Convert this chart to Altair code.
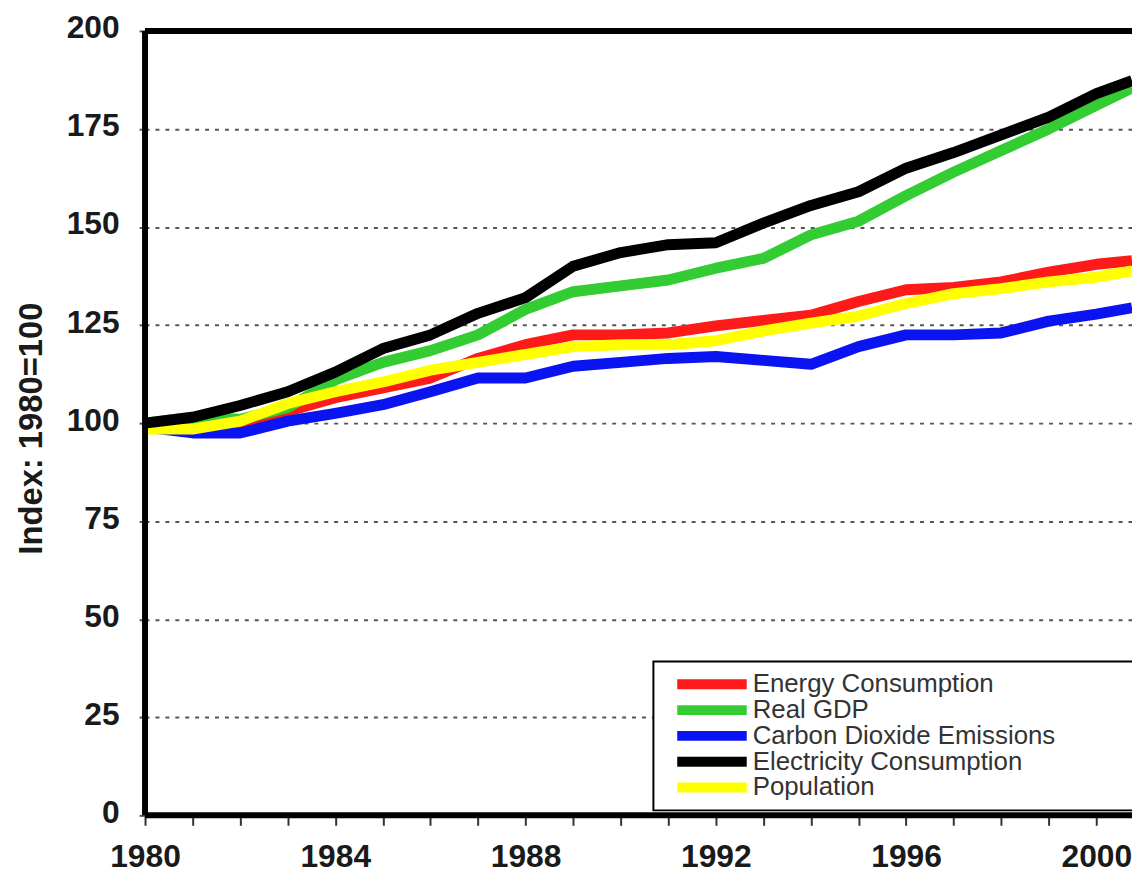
import altair as alt
import pandas as pd

years = [1980, 1981, 1982, 1983, 1984, 1985, 1986, 1987, 1988, 1989, 1990,
         1991, 1992, 1993, 1994, 1995, 1996, 1997, 1998, 1999, 2000, 2000.75]

energy = [100, 98.5, 100, 103, 106.5, 109, 111.5, 116.5, 120, 122.5, 122.5,
          123, 124.8, 126.2, 127.5, 131, 134, 134.6, 136, 138.5, 140.5, 141.4]
gdp = [100, 101.5, 101, 104, 111, 115.5, 118.5, 122.5, 129, 133.5, 135,
       136.5, 139.5, 142, 148, 151.5, 158, 164, 169.5, 175, 181, 185.5]
co2 = [99, 97.5, 97.5, 100.5, 102.5, 104.7, 108, 111.5, 111.5, 114.5, 115.5,
       116.5, 117, 116, 115, 119.5, 122.5, 122.5, 123, 126, 127.8, 129.4]
elec = [100, 101.5, 104.5, 108, 113, 119, 122.5, 128, 132, 140, 143.5,
        145.5, 146, 151, 155.5, 159, 165, 169, 173.5, 178, 184, 187.3]
pop = [98.5, 98.5, 100.5, 105, 108, 110.5, 113.5, 115.5, 117.5, 119.5, 120,
       120, 121, 123.5, 125.5, 127.3, 130.5, 133, 134.3, 136, 137.2, 138.8]

series_names = ["Energy Consumption", "Real GDP", "Carbon Dioxide Emissions",
                "Electricity Consumption", "Population"]
series_colors = ["#ff1a1a", "#33cc33", "#0a14f0", "#000000", "#ffff00"]
series_values = {
    "Energy Consumption": energy,
    "Real GDP": gdp,
    "Carbon Dioxide Emissions": co2,
    "Electricity Consumption": elec,
    "Population": pop,
}
draw_order = ["Energy Consumption", "Carbon Dioxide Emissions", "Real GDP",
              "Population", "Electricity Consumption"]

x_ticks = list(range(1980, 2001))
y_ticks = [0, 25, 50, 75, 100, 125, 150, 175, 200]

rows = []
for name in draw_order:
    for yr, v in zip(years, series_values[name]):
        rows.append({"year": yr, "value": v, "series": name})
df = pd.DataFrame(rows)

FONT = "Liberation Sans"

x_scale = alt.Scale(domain=[1980, 2000.75], nice=False, zero=False)
y_scale = alt.Scale(domain=[0, 200], nice=False)

x_axis = alt.Axis(values=x_ticks, grid=False, domain=False, tickSize=10,
                  tickWidth=2, tickColor="#333",
                  labelExpr="datum.value % 4 === 0 ? format(datum.value, 'd') : ''",
                  labelFont=FONT, labelFontSize=32, labelFontWeight="bold",
                  labelColor="#1a1a1a", labelPadding=17, labelFlush=False,
                  labelOverlap=False, title=None)
y_axis = alt.Axis(values=y_ticks, grid=True, gridDash=[4, 6], gridWidth=2,
                  gridColor="#555", domain=False, tickSize=6, tickWidth=2,
                  tickColor="#555", labelFont=FONT, labelFontSize=32,
                  labelFontWeight="bold", labelColor="#1a1a1a", labelPadding=20,
                  labelOffset=-3,
                  title="Index: 1980=100", titleFont=FONT, titleFontSize=33,
                  titleFontWeight="bold", titleColor="#1a1a1a", titleAngle=-90,
                  titleX=-114, titleY=400, titleBaseline="middle",
                  titleAlign="center")

legend = alt.Legend(orient="none", legendX=512, legendY=635,
                    title=".", titleOrient="right", titleColor="white",
                    titleFontSize=2, titlePadding=90,
                    symbolType="M-7,0H7", symbolSize=100, symbolStrokeWidth=10,
                    symbolOffset=36, labelOffset=28, labelFont=FONT,
                    labelFontSize=26, labelColor="#333", labelLimit=0,
                    clipHeight=26, rowPadding=0, padding=10,
                    strokeColor="black", fillColor="white")

color = alt.Color("series:N",
                  scale=alt.Scale(domain=series_names, range=series_colors),
                  legend=legend)

layers = []
for name in draw_order:
    layers.append(
        alt.Chart(df).transform_filter(alt.datum.series == name)
        .mark_line(strokeWidth=11, strokeJoin="round")
        .encode(
            x=alt.X("year:Q", scale=x_scale, axis=x_axis),
            y=alt.Y("value:Q", scale=y_scale, axis=y_axis),
            color=color,
        )
    )

frame_h = alt.Chart(pd.DataFrame({"value": [0, 200]})).mark_rule(
    color="black", strokeWidth=6).encode(
    y=alt.Y("value:Q", scale=y_scale, axis=y_axis))
frame_v = alt.Chart(pd.DataFrame({"year": [1980]})).mark_rule(
    color="black", strokeWidth=6).encode(
    x=alt.X("year:Q", scale=x_scale, axis=x_axis))

chart = alt.layer(*layers, frame_h, frame_v).properties(
    width=994, height=790,
    autosize=alt.AutoSizeParams(type="none"),
    padding={"left": 138, "top": 20, "right": 0, "bottom": 58},
    background="white",
).configure_view(stroke=None).configure_legend(strokeWidth=2)

chart.save("out.html", embed_options={"renderer": "svg", "actions": False})
